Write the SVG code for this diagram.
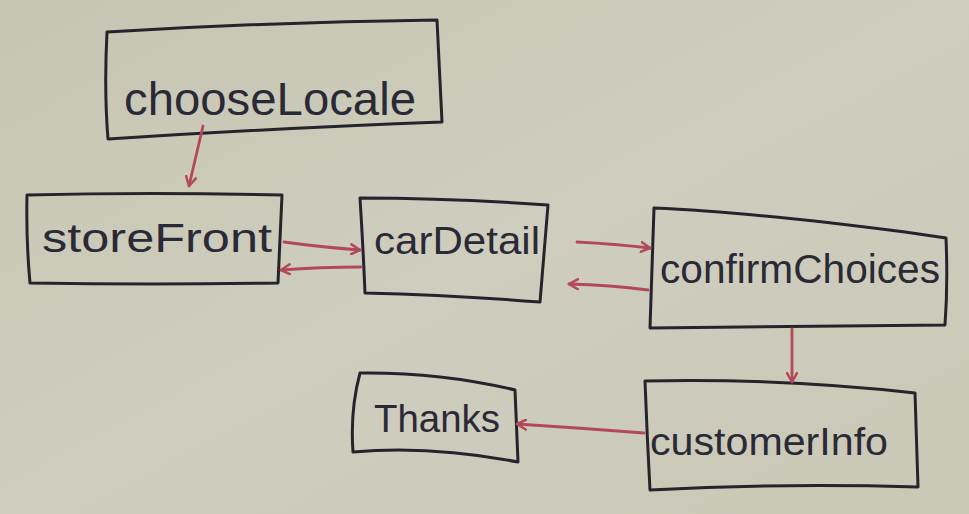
<svg xmlns="http://www.w3.org/2000/svg" width="969" height="514" viewBox="0 0 969 514">
<defs>
<linearGradient id="bg" x1="0" y1="0" x2="1" y2="1">
<stop offset="0" stop-color="#c6c4b2"/>
<stop offset="0.5" stop-color="#cfcdbd"/>
<stop offset="1" stop-color="#c9c7b6"/>
</linearGradient>
<marker id="ah" viewBox="0 0 12 12" refX="10" refY="6" markerWidth="12" markerHeight="12" markerUnits="userSpaceOnUse" orient="auto">
<path d="M1,1 L10,6 L1,11" fill="none" stroke="#b3485a" stroke-width="2.5" stroke-linecap="round" stroke-linejoin="round"/>
</marker>
<style>
.box{fill:none;stroke:#25242c;stroke-width:3;stroke-linejoin:round;stroke-linecap:round}
.lbl{font-family:"Liberation Sans","DejaVu Sans",sans-serif;fill:#2a2a36;font-weight:normal}
.edge{fill:none;stroke:#b3485a;stroke-width:2.8;stroke-linecap:round;marker-end:url(#ah)}
</style>
</defs>
<rect width="969" height="514" fill="url(#bg)"/>
<g id="chooseLocale">
<path class="box" d="M107,32 Q270,22 437,20 L442,122 Q280,128 108,139 Q104,90 107,32 Z"/>
<text class="lbl" x="124" y="115" font-size="46" textLength="292" lengthAdjust="spacingAndGlyphs">chooseLocale</text>
</g>
<g id="storeFront">
<path class="box" d="M27,195 Q150,192 282,195 L278,283 Q150,285 30,283 Q26,240 27,195 Z"/>
<text class="lbl" x="42" y="252" font-size="40" textLength="230" lengthAdjust="spacingAndGlyphs">storeFront</text>
</g>
<g id="carDetail">
<path class="box" d="M360,198 Q450,198 548,205 L540,302 Q450,295 365,293 Q363,245 360,198 Z"/>
<text class="lbl" x="374" y="254" font-size="38" textLength="166" lengthAdjust="spacingAndGlyphs">carDetail</text>
</g>
<g id="confirmChoices">
<path class="box" d="M654,208 Q750,212 905,232 L946,238 Q948,285 945,325 Q800,326 650,328 Q652,268 654,208 Z"/>
<text class="lbl" x="660" y="283" font-size="40" textLength="280" lengthAdjust="spacingAndGlyphs">confirmChoices</text>
</g>
<g id="customerInfo">
<path class="box" d="M645,381 Q780,378 915,393 L918,487 Q780,483 650,490 Q647,435 645,381 Z"/>
<text class="lbl" x="650" y="455" font-size="38" textLength="238" lengthAdjust="spacingAndGlyphs">customerInfo</text>
</g>
<g id="Thanks">
<path class="box" d="M360,373 Q440,372 515,390 L518,462 Q430,445 353,452 Q350,410 360,373 Z"/>
<text class="lbl" x="374" y="432" font-size="38" textLength="126" lengthAdjust="spacingAndGlyphs">Thanks</text>
</g>
<g id="connectors">
<path class="edge" d="M203,126 L189,186"/>
<path class="edge" d="M284,242 Q320,247 360,250"/>
<path class="edge" d="M361,267 Q320,267 281,270"/>
<path class="edge" d="M577,242 Q615,244 650,248"/>
<path class="edge" d="M648,290 Q610,285 569,284"/>
<path class="edge" d="M792,329 L792,382"/>
<path class="edge" d="M644,433 Q580,428 517,424"/>
</g>
</svg>
